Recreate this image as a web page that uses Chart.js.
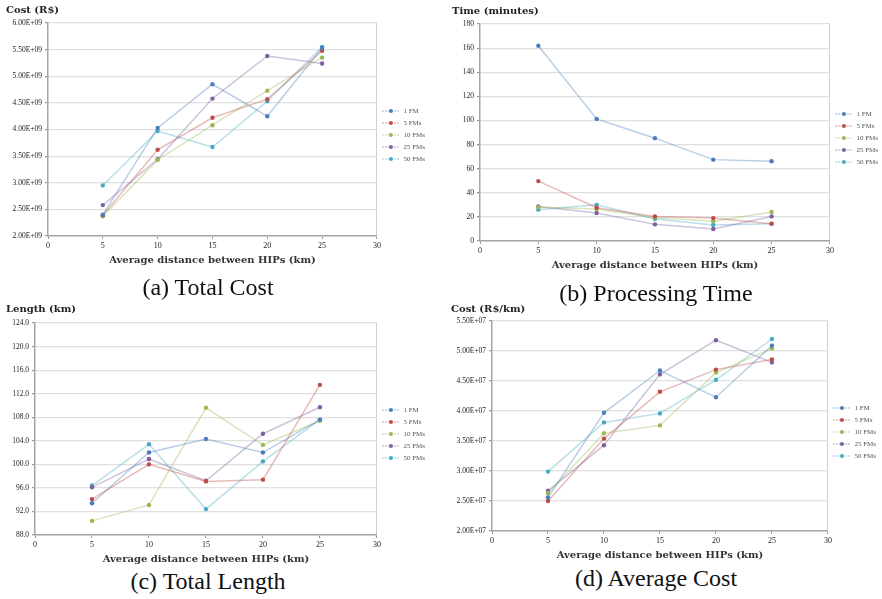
<!DOCTYPE html>
<html>
<head>
<meta charset="utf-8">
<script src="https://cdn.jsdelivr.net/npm/chart.js@4/dist/chart.umd.min.js"></script>
<style>
  body { margin: 0; background: #fff; width: 882px; height: 599px; position: relative; overflow: hidden; }
  canvas { position: absolute; }
  .cap { position: absolute; font-family: "Liberation Serif", serif; font-size: 24px; color: #111;
         transform: translate(-50%, -50%); white-space: nowrap; }
</style>
</head>
<body>
<canvas id="chartA" width="441" height="266" style="left:0;top:0"></canvas>
<canvas id="chartB" width="448" height="271" style="left:441px;top:0"></canvas>
<canvas id="chartC" width="441" height="265" style="left:0;top:300px"></canvas>
<canvas id="chartD" width="447" height="261" style="left:441px;top:300px"></canvas>
<div class="cap" style="left:208px;top:287px">(a) Total Cost</div>
<div class="cap" style="left:656px;top:293px">(b) Processing Time</div>
<div class="cap" style="left:208px;top:581px">(c) Total Length</div>
<div class="cap" style="left:656px;top:578px">(d) Average Cost</div>
<script>
// x values and series names
const distances = [5, 10, 15, 20, 25];
const seriesNames = ['1 FM', '5 FMs', '10 FMs', '25 FMs', '50 FMs'];

// (a) total cost, R$
const totalCost = [
  [2.40e9, 4.03e9, 4.85e9, 4.25e9, 5.53e9],
  [2.39e9, 3.62e9, 4.22e9, 4.57e9, 5.48e9],
  [2.37e9, 3.43e9, 4.08e9, 4.73e9, 5.35e9],
  [2.58e9, 3.44e9, 4.58e9, 5.38e9, 5.24e9],
  [2.95e9, 3.97e9, 3.67e9, 4.53e9, 5.55e9]
];
// (b) processing time, minutes
const processingTime = [
  [162, 101.3, 85.3, 67.5, 66.2],
  [49.7, 27.6, 20.4, 19, 14.4],
  [28, 26.5, 19.3, 16.3, 24],
  [28.7, 23.2, 13.8, 10, 20.4],
  [26, 30, 18.2, 13.3, 14.4]
];
// (c) total length, km
const totalLength = [
  [93.4, 102.0, 104.3, 102.0, 107.6],
  [94.1, 100.0, 97.1, 97.4, 113.5],
  [90.4, 93.1, 109.6, 103.3, 107.4],
  [96.1, 100.9, 97.2, 105.2, 109.7],
  [96.4, 103.4, 92.4, 100.5, 107.6]
];
// (d) average cost, R$/km
const averageCost = [
  [2.56e7, 3.97e7, 4.675e7, 4.23e7, 5.09e7],
  [2.50e7, 3.54e7, 4.32e7, 4.69e7, 4.86e7],
  [2.63e7, 3.63e7, 3.76e7, 4.64e7, 5.04e7],
  [2.67e7, 3.43e7, 4.61e7, 5.18e7, 4.81e7],
  [2.99e7, 3.81e7, 3.96e7, 4.52e7, 5.20e7]
];

const markerColors = ['#4a7ebb', '#be4b48', '#98b954', '#7d60a0', '#46aac5'];
const lineColors = ['rgba(74,126,187,0.38)', 'rgba(190,75,72,0.38)', 'rgba(152,185,84,0.38)',
                    'rgba(125,96,160,0.38)', 'rgba(70,170,197,0.38)'];
const serif = '"Liberation Serif", "DejaVu Serif", serif';
const boldSerif = '"DejaVu Serif", serif';

// format like 6.00E+09
function sci(exp) {
  return v => (v / Math.pow(10, exp)).toFixed(2) + 'E+' + String(exp).padStart(2, '0');
}

// small legend symbol: line with a dot in the middle
function legendIcon(i) {
  const c = document.createElement('canvas');
  c.width = 18; c.height = 6;
  const g = c.getContext('2d');
  g.strokeStyle = lineColors[i];
  g.lineWidth = 1.5;
  g.setLineDash([2, 1]);
  g.beginPath(); g.moveTo(0, 3); g.lineTo(18, 3); g.stroke();
  g.fillStyle = markerColors[i];
  g.beginPath(); g.arc(9, 3, 2, 0, Math.PI * 2); g.fill();
  return c;
}
const icons = seriesNames.map((n, i) => legendIcon(i));

function makeChart(id, o) {
  const datasets = seriesNames.map((name, i) => ({
    label: name,
    data: distances.map((x, j) => ({ x: x, y: o.values[i][j] })),
    borderColor: lineColors[i],
    backgroundColor: markerColors[i],
    pointBackgroundColor: markerColors[i],
    pointBorderWidth: 0,
    borderWidth: 1.5,
    pointRadius: 2.2,
    tension: 0
  }));

  return new Chart(document.getElementById(id), {
    type: 'line',
    data: { datasets },
    options: {
      responsive: false,
      animation: false,
      layout: { padding: { left: o.padLeft, top: o.padTop, right: o.padRight, bottom: 0 } },
      plugins: {
        title: {
          display: true, text: o.yTitle, align: 'start', color: '#222',
          font: { family: boldSerif, size: 10, weight: 'bold' },
          padding: { top: 0, bottom: o.titleGap }
        },
        legend: {
          position: 'right',
          labels: {
            usePointStyle: true, pointStyleWidth: 18, boxHeight: 6, padding: 5,
            color: '#555', font: { family: serif, size: 7 },
            generateLabels: chart => Chart.defaults.plugins.legend.labels.generateLabels(chart)
              .map(l => Object.assign(l, { pointStyle: icons[l.datasetIndex] }))
          }
        },
        tooltip: { enabled: false }
      },
      scales: {
        x: {
          type: 'linear', min: 0, max: 30,
          ticks: { stepSize: 5, color: '#222', font: { family: serif, size: 8 }, padding: 2 },
          grid: { color: c => c.tick && c.tick.value === 30 ? '#d0d0d0' : 'transparent',
                  tickColor: '#999', tickLength: 3 },
          border: { color: '#a6a6a6', width: 1.5 },
          title: { display: true, text: 'Average distance between HIPs (km)', color: '#333',
                   font: { family: boldSerif, size: 10, weight: 'bold' }, padding: { top: 1, bottom: 0 } },
          afterFit: s => { s.height = o.xHeight; }
        },
        y: {
          min: o.yMin, max: o.yMax,
          ticks: { stepSize: o.yStep, color: '#222', font: { family: serif, size: 7.5 }, padding: 3,
                   callback: o.yFmt },
          grid: { color: '#e0e0e0', lineWidth: 1.2, tickColor: '#999', tickLength: 3 },
          border: { color: '#a6a6a6', width: 1.5 },
          afterFit: s => { s.width = o.yWidth; }
        }
      }
    }
  });
}

makeChart('chartA', {
  values: totalCost, yMin: 2e9, yMax: 6e9, yStep: 0.5e9, yFmt: sci(9), yTitle: 'Cost (R$)',
  padLeft: 6, yWidth: 42, padTop: 4, titleGap: 7, padRight: 6, xHeight: 30
});
makeChart('chartB', {
  values: processingTime, yMin: 0, yMax: 180, yStep: 20, yFmt: v => v, yTitle: 'Time (minutes)',
  padLeft: 11, yWidth: 28, padTop: 5, titleGap: 7, padRight: 1, xHeight: 30
});
makeChart('chartC', {
  values: totalLength, yMin: 88, yMax: 124, yStep: 4, yFmt: v => v.toFixed(1), yTitle: 'Length (km)',
  padLeft: 6, yWidth: 29, padTop: 3, titleGap: 8, padRight: 6, xHeight: 30
});
makeChart('chartD', {
  values: averageCost, yMin: 2e7, yMax: 5.5e7, yStep: 0.5e7, yFmt: sci(7), yTitle: 'Cost (R$/km)',
  padLeft: 10, yWidth: 41, padTop: 3, titleGap: 6, padRight: 2, xHeight: 30
});
</script>
</body>
</html>
